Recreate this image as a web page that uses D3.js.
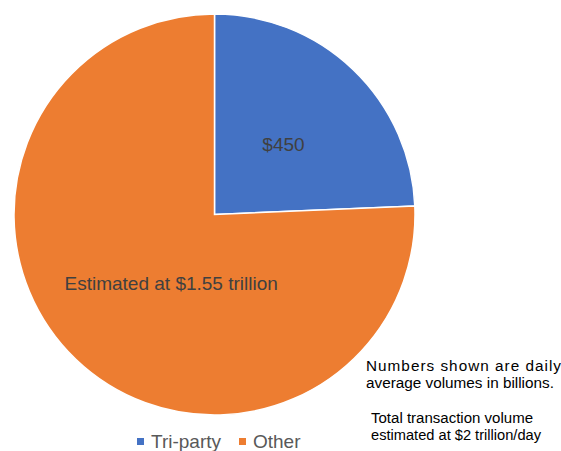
<!DOCTYPE html>
<html>
<head>
<meta charset="utf-8">
<script src="https://cdn.jsdelivr.net/npm/d3@7"></script>
<style>
  body { margin: 0; background: #fff; }
  text { font-family: "Liberation Sans", Arial, sans-serif; }
</style>
</head>
<body>
<div id="chart"></div>
<script>
const categories = ["Tri-party", "Other"];
const values = [450, 1400];
const sliceLabels = ["$450", "Estimated at $1.55 trillion"];
const colors = ["#4472c4", "#ed7d31"];
const noteLines = ["Numbers shown are daily", "average volumes in billions."];
const totalLines = ["Total transaction volume", "estimated at $2 trillion/day"];

const width = 561, height = 451;
const cx = 214.5, cy = 214.5, r = 200.5;

const svg = d3.select("#chart").append("svg")
  .attr("width", width)
  .attr("height", height);

const pie = d3.pie().sort(null).value(d => d);
const arcs = pie(values);
const arc = d3.arc().innerRadius(0).outerRadius(r);

const g = svg.append("g").attr("transform", `translate(${cx},${cy})`);

g.selectAll("path")
  .data(arcs)
  .join("path")
  .attr("d", arc)
  .attr("fill", (d, i) => colors[i])
  .attr("stroke", "#fff")
  .attr("stroke-width", 1.5);

// slice labels
const labelPos = [[69, -64], [-150, 75]];
g.selectAll("text.slice")
  .data(arcs)
  .join("text")
  .attr("class", "slice")
  .attr("x", (d, i) => labelPos[i][0])
  .attr("y", (d, i) => labelPos[i][1])
  .attr("font-size", 19)
  .attr("fill", "#404040")
  .attr("text-anchor", (d, i) => i === 0 ? "middle" : "start")
  .text((d, i) => sliceLabels[i]);

// legend
const legend = svg.append("g").attr("transform", "translate(137,448)");
const legX = [0, 102];
categories.forEach((c, i) => {
  legend.append("rect")
    .attr("x", legX[i]).attr("y", -10)
    .attr("width", 7).attr("height", 7)
    .attr("fill", colors[i]);
  legend.append("text")
    .attr("x", legX[i] + 14).attr("y", 0)
    .attr("font-size", 19)
    .attr("fill", "#595959")
    .text(c);
});

// notes
svg.selectAll("text.note")
  .data(noteLines)
  .join("text")
  .attr("class", "note")
  .attr("x", 366)
  .attr("y", (d, i) => 371 + i * 17)
  .attr("font-size", 15.3)
  .attr("fill", "#000")
  .attr("textLength", (d, i) => i === 0 ? 195 : null)
  .attr("lengthAdjust", "spacing")
  .text(d => d);

svg.selectAll("text.total")
  .data(totalLines)
  .join("text")
  .attr("class", "total")
  .attr("x", 371)
  .attr("y", (d, i) => 423 + i * 17)
  .attr("font-size", 15.3)
  .attr("fill", "#000")
  .attr("textLength", (d, i) => i === 0 ? 162 : 170)
  .attr("lengthAdjust", "spacingAndGlyphs")
  .text(d => d);
</script>
</body>
</html>
